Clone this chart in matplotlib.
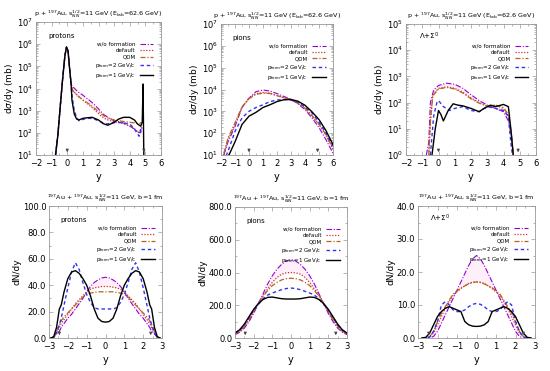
import numpy as np
import matplotlib
matplotlib.use("Agg")
import matplotlib.pyplot as plt
from matplotlib.ticker import FormatStrFormatter, MultipleLocator, LogLocator

labels = ["w/o formation", "default", "QDM",
          r"p$_{\rm form}$=2 GeV/c", r"p$_{\rm form}$=1 GeV/c"]

# ---- p + Au, protons (dsigma/dy, mb) ----
pp_y_left = [-0.75, -0.6, -0.45, -0.3, -0.15, -0.05, 0.05, 0.15, 0.25]
pp_left = [10, 80, 1.5e3, 2.5e4, 3e5, 7.5e5, 5e5, 8e4, 1.5e4]
pp_y_wo = [0.35, 0.7, 1.0, 1.4, 1.7, 2.0, 2.3, 2.7, 3.0, 3.5, 4.0, 4.3, 4.5, 4.7, 4.8]
pp_wo = [1.2e4, 7e3, 5e3, 3e3, 2e3, 1.2e3, 700, 450, 350, 300, 200, 150, 110, 100, 200]
pp_y_def = [0.35, 0.7, 1.0, 1.4, 1.8, 2.2, 2.5, 2.9, 3.2, 3.6, 4.0, 4.3, 4.6, 4.75]
pp_def = [8e3, 4.5e3, 3e3, 1.8e3, 1e3, 550, 400, 330, 300, 260, 200, 150, 100, 180]
pp_y_qdm = [0.35, 0.7, 1.0, 1.4, 1.8, 2.2, 2.5, 2.9, 3.3, 3.7, 4.0, 4.3, 4.6, 4.75]
pp_qdm = [8e3, 4.5e3, 3e3, 2e3, 1.2e3, 700, 500, 400, 350, 320, 300, 280, 250, 300]
pp_y_p2 = [0.3, 0.45, 0.6, 0.75, 1.0, 1.2, 1.5, 1.8, 2.2, 2.5, 2.9, 3.2, 3.6, 4.0, 4.3, 4.5, 4.6, 4.75]
pp_p2 = [5e3, 1e3, 500, 350, 400, 450, 450, 400, 300, 250, 280, 300, 280, 250, 150, 90, 70, 200]
pp_y_p1 = [0.3, 0.45, 0.6, 0.75, 1.0, 1.3, 1.6, 2.0, 2.3, 2.6, 3.0, 3.3, 3.6, 4.0, 4.3, 4.5, 4.7, 4.8, 4.85, 4.9]
pp_p1 = [3e3, 700, 420, 380, 450, 480, 500, 380, 260, 220, 300, 420, 500, 500, 380, 250, 200, 300, 1.6e4, 10]

# ---- p + Au, pions ----
ppi_y = [-1.8, -1.5, -1.0, -0.5, 0.0, 0.5, 1.0, 1.5, 2.0, 2.5, 3.0, 3.5, 4.0, 4.5, 5.0, 5.5, 6.0]
ppi_wo = [10, 40, 200, 1.5e3, 4e3, 8e3, 9.5e3, 8.5e3, 6.5e3, 4.8e3, 3.5e3, 2.2e3, 1.2e3, 500, 180, 50, 12]
ppi_def = [10, 50, 250, 1.5e3, 4e3, 6.5e3, 7.2e3, 6.8e3, 5.3e3, 4.2e3, 3.5e3, 2.3e3, 1.4e3, 600, 250, 80, 18]
ppi_qdm = [12, 60, 300, 1.6e3, 3.8e3, 6e3, 6.8e3, 6.5e3, 5.2e3, 4.2e3, 3.4e3, 2.3e3, 1.4e3, 650, 260, 85, 20]
ppi_p2 = [5, 15, 120, 500, 1e3, 1.5e3, 2e3, 2.8e3, 3.3e3, 3.5e3, 3.3e3, 2.6e3, 1.6e3, 850, 320, 100, 25]
ppi_p1 = [3, 8, 40, 250, 600, 900, 1.5e3, 2e3, 2.8e3, 3.4e3, 3.5e3, 2.9e3, 1.9e3, 950, 420, 130, 30]

# ---- p + Au, Lambda + Sigma0 ----
pl_y_wo = [-0.75, -0.6, -0.5, -0.3, 0.0, 0.5, 1.0, 1.5, 2.0, 2.5, 3.0, 3.5, 4.0, 4.3, 4.5, 4.6]
pl_wo = [1, 3, 100, 300, 450, 550, 500, 350, 200, 120, 80, 60, 45, 20, 5, 1]
pl_y_def = [-0.6, -0.5, -0.35, 0.0, 0.5, 1.0, 1.5, 2.0, 2.5, 3.0, 3.5, 4.0, 4.3, 4.5, 4.6]
pl_def = [1, 20, 200, 350, 400, 350, 250, 150, 100, 70, 80, 60, 30, 5, 1]
pl_qdm = [1, 18, 180, 330, 380, 330, 230, 140, 95, 75, 80, 65, 35, 6, 1]
pl_y_p2 = [-0.5, -0.3, -0.1, 0.0, 0.3, 0.7, 1.0, 1.5, 2.0, 2.5, 3.0, 3.5, 4.0, 4.3, 4.45, 4.55]
pl_p2 = [1, 30, 100, 120, 70, 50, 60, 70, 50, 45, 70, 60, 50, 30, 3, 1]
pl_y_p1 = [-0.4, -0.2, 0.0, 0.15, 0.3, 0.6, 0.9, 1.2, 1.5, 2.0, 2.5, 2.8, 3.2, 3.5, 4.0, 4.3, 4.45, 4.6]
pl_p1 = [1, 10, 50, 35, 20, 50, 90, 80, 75, 60, 45, 60, 80, 70, 85, 70, 10, 1]

# ---- Au + Au, protons (dN/dy), half profiles, mirrored ----
ap_y = [0.0, 0.2, 0.4, 0.6, 0.8, 1.0, 1.2, 1.4, 1.6, 1.8, 2.0, 2.2, 2.35, 2.45, 2.6, 2.75, 2.9]
ap_wo = [46, 45.5, 44, 42, 39, 35, 30, 26, 22, 18, 15, 11, 8, 5, 3, 0.5, 0]
ap_def = [39, 39, 38.5, 38, 37, 35, 32, 29, 26, 22, 18, 14, 11, 8, 4, 0.5, 0]
ap_qdm = [35, 35, 35, 34.5, 34, 33, 31, 28, 25, 22, 19, 16, 13, 10, 5, 0.5, 0]
ap_p2 = [22, 22, 22, 23, 27, 33, 42, 52, 57, 50, 38, 25, 15, 10, 4, 0.5, 0]
ap_p1 = [12, 12.5, 15, 22, 32, 40, 45, 49, 51, 50, 45, 35, 25, 22, 8, 1, 0]

# ---- Au + Au, pions ----
api_y = [0.0, 0.25, 0.5, 0.75, 1.0, 1.25, 1.5, 1.75, 2.0, 2.25, 2.5, 2.75, 3.0]
api_wo = [480, 470, 450, 420, 380, 330, 270, 210, 150, 100, 60, 35, 20]
api_def = [400, 398, 390, 370, 340, 300, 260, 210, 160, 110, 70, 40, 25]
api_qdm = [365, 362, 355, 340, 320, 290, 255, 210, 165, 115, 72, 42, 25]
api_p2 = [305, 302, 295, 285, 275, 262, 240, 205, 170, 125, 80, 48, 30]
api_p1 = [238, 238, 240, 245, 250, 248, 235, 210, 175, 130, 85, 50, 30]

# ---- Au + Au, Lambda + Sigma0 ----
al_y = [0.0, 0.2, 0.4, 0.6, 0.8, 1.0, 1.2, 1.4, 1.6, 1.8, 2.0, 2.2, 2.4, 2.6, 2.8]
al_wo = [25, 24, 22, 19.5, 17, 14.5, 12, 9.5, 7, 4.5, 2, 0.5, 0, 0, 0]
al_def = [17, 16.9, 16.5, 15.8, 15, 14, 13, 11, 9, 6.5, 4, 1.5, 0.5, 0, 0]
al_qdm = [17, 16.8, 16.4, 15.8, 15.2, 14.3, 13.3, 11.5, 9.5, 7.5, 5, 2, 0.5, 0, 0]
al_p2 = [10.5, 10.2, 9.5, 8.5, 8, 8, 8.5, 10, 11, 10, 5, 2, 0.3, 0, 0]
al_p1 = [3.5, 3.6, 4, 5, 8, 8.5, 9, 9.5, 9, 8, 6.5, 4, 1.5, 0.2, 0]

colors = ["#9400d3", "#c0392b", "#b5651d", "#3333ee", "black"]
styles = [(0, (5, 1.5, 1, 1.5)), (0, (1, 1.3)), (0, (4, 1.5, 1, 1.5)), (0, (2.5, 2)), "-"]
widths = [0.8, 0.9, 0.9, 1.0, 1.0]

top_title = r"p + $^{197}$Au, s$_{NN}^{1/2}$=11 GeV (E$_{\rm lab}$=62.6 GeV)"
bot_title = r"$^{197}$Au + $^{197}$Au, s$_{NN}^{1/2}$=11 GeV, b=1 fm"


def mirror(y, v):
    y = np.array(y)
    v = np.array(v)
    return np.concatenate([-y[::-1], y[1:]]), np.concatenate([v[::-1], v[1:]])


def style_axes(ax):
    for s in ax.spines.values():
        s.set_color("#999999")
        s.set_linewidth(0.6)
    ax.tick_params(which="both", direction="in", top=True, right=True,
                   labelsize=6, color="#999999", width=0.5, pad=2)
    ax.tick_params(axis="x", pad=3)
    ax.tick_params(which="major", length=3)
    ax.tick_params(which="minor", length=1.5)


def draw(ax, curves, log, xlim, ylim, title, ylab, tag, arrows):
    for i, (x, v) in enumerate(curves):
        ax.plot(x, v, color=colors[i], ls=styles[i], lw=widths[i], label=labels[i])
    # faint pink band between the two upper curves
    (x0, v0), (x1, v1) = curves[0], curves[1]
    xs = np.linspace(max(x0[0], x1[0]), min(x0[-1], x1[-1]), 200)
    a = np.interp(xs, x0, v0)
    b = np.interp(xs, x1, v1)
    ax.fill_between(xs, a, b, color="#ffb3e6", alpha=0.2, lw=0)
    if log:
        ax.set_yscale("log")
    ax.set_xlim(*xlim)
    ax.set_ylim(*ylim)
    style_axes(ax)
    ax.set_title(title, fontsize=4.6, pad=4)
    ax.set_ylabel(ylab, fontsize=6.5, labelpad=1)
    ax.set_xlabel("y", fontsize=7, labelpad=3)
    ax.text(0.1, 0.88, tag, transform=ax.transAxes, fontsize=5)
    for xa in arrows:
        ax.annotate("", xy=(xa, 0.0), xytext=(xa, 0.06),
                    xycoords=("data", "axes fraction"),
                    arrowprops=dict(arrowstyle="-|>", color="#444444", lw=0.6,
                                    mutation_scale=4))
    leg = ax.legend(loc="upper right", bbox_to_anchor=(0.97, 0.88), fontsize=4,
                    frameon=False, markerfirst=False, handlelength=2.4,
                    labelspacing=0.25, borderpad=0.2)
    for t in leg.get_texts():
        t.set_ha("right")


fig = plt.figure(figsize=(5.5, 3.71), dpi=100)
W, H = 550, 371


def add_axes(l, r, t, b):
    return fig.add_axes([l / W, 1 - b / H, (r - l) / W, (b - t) / H])


ax1 = add_axes(36, 161, 22, 155)
ax2 = add_axes(221, 333, 24, 155)
ax3 = add_axes(406, 536, 24, 155)
ax4 = add_axes(49, 162, 206, 338)
ax5 = add_axes(235, 347, 207, 338)
ax6 = add_axes(418, 535, 206, 338)

# protons p+Au: common left rise joined to each curve
c1 = []
for yy, vv in [(pp_y_wo, pp_wo), (pp_y_def, pp_def), (pp_y_qdm, pp_qdm),
               (pp_y_p2, pp_p2), (pp_y_p1, pp_p1)]:
    c1.append((pp_y_left + yy, pp_left + vv))
draw(ax1, c1, True, (-2, 6), (10, 1e7), top_title, r"d$\sigma$/dy (mb)",
     "protons", [0, 4.9])

draw(ax2, [(ppi_y, ppi_wo), (ppi_y, ppi_def), (ppi_y, ppi_qdm),
           (ppi_y, ppi_p2), (ppi_y, ppi_p1)],
     True, (-2, 6), (10, 1e7), top_title, r"d$\sigma$/dy (mb)", "pions", [0, 4.9])

draw(ax3, [(pl_y_wo, pl_wo), (pl_y_def, pl_def), (pl_y_def, pl_qdm),
           (pl_y_p2, pl_p2), (pl_y_p1, pl_p1)],
     True, (-2, 6), (1, 1e5), top_title, r"d$\sigma$/dy (mb)",
     r"$\Lambda$+$\Sigma^0$", [0, 4.9])

draw(ax4, [mirror(ap_y, v) for v in [ap_wo, ap_def, ap_qdm, ap_p2, ap_p1]],
     False, (-3, 3), (0, 100), bot_title, "dN/dy", "protons", [-2.45, 2.4])
draw(ax5, [mirror(api_y, v) for v in [api_wo, api_def, api_qdm, api_p2, api_p1]],
     False, (-3, 3), (0, 800), bot_title, "dN/dy", "pions", [-2.45, 2.4])
draw(ax6, [mirror(al_y, v) for v in [al_wo, al_def, al_qdm, al_p2, al_p1]],
     False, (-3, 3), (0, 40), bot_title, "dN/dy", r"$\Lambda$+$\Sigma^0$", [-2.45, 2.4])

for ax in (ax1, ax2, ax3):
    ax.xaxis.set_major_locator(MultipleLocator(1))
    ax.xaxis.set_minor_locator(MultipleLocator(0.5))
    ax.yaxis.set_major_locator(LogLocator(base=10, numticks=10))
for ax, step in ((ax4, 20), (ax5, 200), (ax6, 10)):
    ax.xaxis.set_major_locator(MultipleLocator(1))
    ax.xaxis.set_minor_locator(MultipleLocator(0.5))
    ax.yaxis.set_major_locator(MultipleLocator(step))
    ax.yaxis.set_minor_locator(MultipleLocator(step / 2))
    ax.yaxis.set_major_formatter(FormatStrFormatter("%.1f"))

fig.savefig("out.png", dpi=100)
